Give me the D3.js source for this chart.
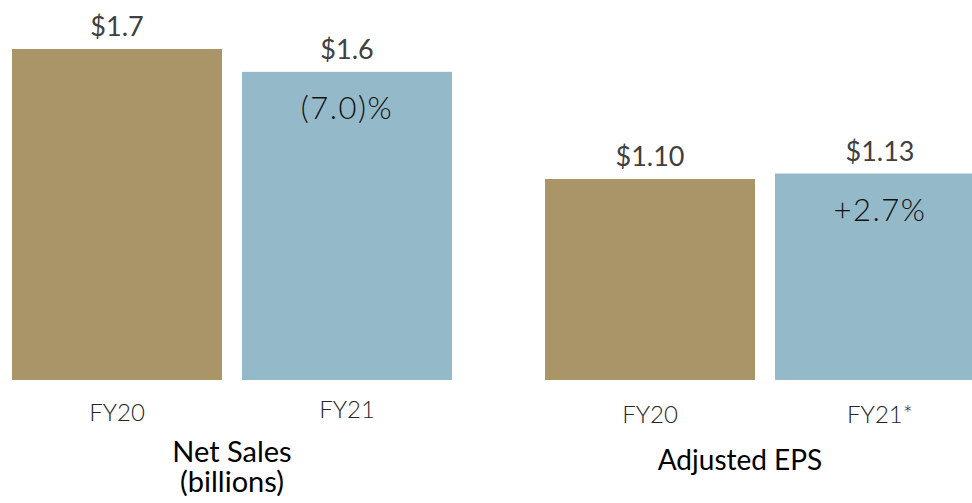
<!DOCTYPE html>
<html>
<head>
<meta charset="utf-8">
<script src="https://cdn.jsdelivr.net/npm/d3@7"></script>
<style>
  html, body { margin: 0; padding: 0; background: #fff; }
  svg { display: block; }
  text { font-family: Lato, "Open Sans", sans-serif; }
</style>
</head>
<body>
<svg id="chart" width="972" height="503"></svg>
<script>
// ---- Data ----
const salesCategories = ["FY20", "FY21"];
const salesValues = [1.74, 1.62];          // billions
const salesLabels = ["$1.7", "$1.6"];
const salesChange = "(7.0)%";
const salesTitle = ["Net Sales", "(billions)"];

const epsCategories = ["FY20", "FY21*"];
const epsValues = [1.10, 1.13];
const epsLabels = ["$1.10", "$1.13"];
const epsChange = "+2.7%";
const epsTitle = ["Adjusted EPS"];

const colors = ["#A99567", "#94B9C8"];

// ---- Drawing ----
const svg = d3.select("#chart");
const baseY = 380;

function panel(opts) {
  const x = d3.scaleBand().domain(opts.categories).range(opts.xRange)
    .paddingInner(20 / 230).paddingOuter(0);
  const y = d3.scaleLinear().domain([0, opts.refValue]).range([baseY, opts.refTop]);
  const g = svg.append("g");

  g.selectAll("rect").data(opts.values).join("rect")
    .attr("x", (d, i) => x(opts.categories[i]))
    .attr("width", x.bandwidth())
    .attr("y", d => y(d))
    .attr("height", d => baseY - y(d))
    .attr("fill", (d, i) => colors[i]);

  g.selectAll("text.val").data(opts.values).join("text")
    .attr("class", "val")
    .attr("x", (d, i) => x(opts.categories[i]) + x.bandwidth() / 2)
    .attr("y", d => y(d) - 13)
    .attr("text-anchor", "middle")
    .attr("font-size", 27)
    .attr("fill", "#404040")
    .text((d, i) => opts.labels[i]);

  // change label inside second bar
  const last = opts.categories.length - 1;
  g.append("text")
    .attr("x", x(opts.categories[last]) + x.bandwidth() / 2)
    .attr("y", y(opts.values[last]) + 47)
    .attr("text-anchor", "middle")
    .attr("font-size", 31)
    .attr("font-weight", 300)
    .attr("letter-spacing", 1.5)
    .attr("fill", "#111")
    .text(opts.change);

  g.selectAll("text.cat").data(opts.categories).join("text")
    .attr("class", "cat")
    .attr("x", d => x(d) + x.bandwidth() / 2)
    .attr("y", (d, i) => opts.catY[i])
    .attr("text-anchor", "middle")
    .attr("font-size", 24)
    .attr("font-weight", 300)
    .attr("fill", "#262626")
    .text(d => d);

  opts.title.forEach((t, i) => {
    g.append("text")
      .attr("x", opts.titleX)
      .attr("y", opts.titleY + i * 30)
      .attr("text-anchor", "middle")
      .attr("font-size", opts.titleSize)
      .attr("fill", "#000")
      .text(t);
  });
}

panel({
  categories: salesCategories, values: salesValues, labels: salesLabels,
  change: salesChange, title: salesTitle,
  xRange: [12, 452], refValue: salesValues[0], refTop: 49,
  catY: [421, 418], titleX: 232, titleY: 462, titleSize: 29
});

panel({
  categories: epsCategories, values: epsValues, labels: epsLabels,
  change: epsChange, title: epsTitle,
  xRange: [545, 985], refValue: epsValues[0], refTop: 179,
  catY: [423, 423], titleX: 740, titleY: 470, titleSize: 28
});
</script>
</body>
</html>
